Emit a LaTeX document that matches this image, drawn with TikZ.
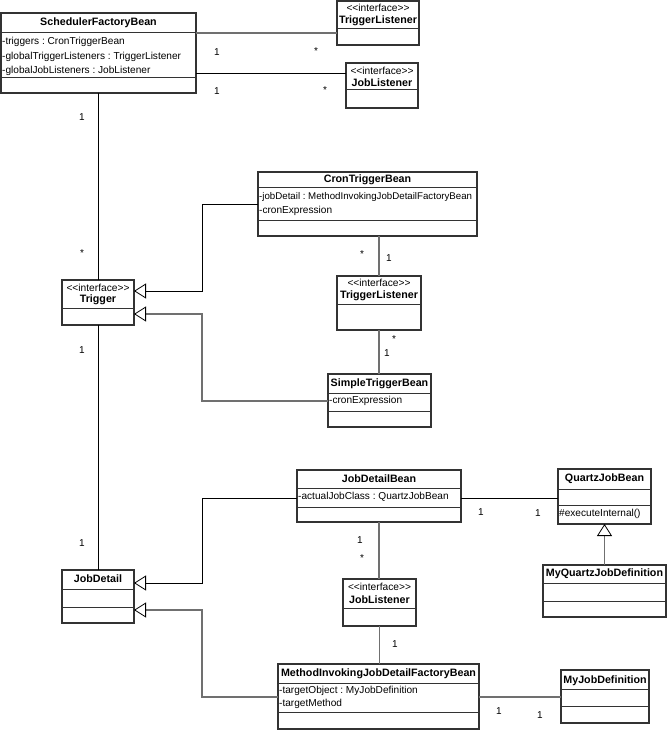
\documentclass[tikz,border=0pt]{standalone}
\usepackage{fontspec}
\setmainfont{Liberation Sans}[Ligatures=TeXOff]
\usetikzlibrary{arrows.meta}
\definecolor{boxc}{HTML}{333333}
\definecolor{grayc}{HTML}{707070}
\frenchspacing
\newcommand\umlbox[6]{%
  \node[classbox, minimum width={(#4-#2)*1pt}, minimum height={(#5-#3)*1pt}] (#1) at ({(#2+#4)/2},{(#3+#5)/2}) {};
  \foreach \s in {#6} \draw[sepline] (#2,\s) -- (#4,\s);
}
\begin{document}
\begin{tikzpicture}[x=1pt,y=-1pt,
  classbox/.style={draw=boxc, line width=1.2pt, inner sep=0pt, outer sep=0pt},
  sepline/.style={draw=boxc, line width=1pt},
  assocb/.style={draw=black, line width=0.8pt},
  assocg/.style={draw=grayc, line width=1.6pt},
  gen/.style={-{Triangle[open, length=12pt, width=15pt, line width=0.8pt, color=black, fill=white]}},
  nm/.style={font=\fontsize{10.7}{12}\selectfont\bfseries, inner sep=0pt},
  stereo/.style={font=\fontsize{10.2}{12}\selectfont, inner sep=0pt},
  attr/.style={font=\fontsize{10.1}{12}\selectfont, inner sep=0pt, anchor=west},
  attrnarrow/.style={attr, font=\fontsize{9.7}{12}\selectfont},
  mult/.style={font=\fontsize{10}{11}\selectfont, inner sep=0pt}]
\useasboundingbox[fill=white] (0,0) rectangle (667,730);

% ---------- boxes ----------
\umlbox{sfb}{1}{13}{196}{93}{33,78}
\umlbox{tla}{337}{1}{419}{45}{29}
\umlbox{jla}{346}{63}{418}{108}{90}
\umlbox{cron}{258}{172}{477}{236}{187,220}
\umlbox{trig}{62}{280}{134}{325}{308}
\umlbox{tlb}{337}{276}{421}{330}{304}
\umlbox{stb}{328}{374}{431}{427}{393,411}
\umlbox{jdb}{297}{470}{461}{522}{488,507}
\umlbox{qjb}{558}{469}{651}{524}{489,505}
\umlbox{mqjd}{543}{565}{666}{617}{583,601}
\umlbox{jlb}{343}{579}{416}{626}{608}
\umlbox{jd}{62}{570}{134}{623}{589,607}
\umlbox{mijd}{278}{664}{479}{729}{683,712}
\umlbox{myjd}{561}{670}{649}{723}{689,706}

% ---------- texts ----------
\node[nm] (sfbN) at (98.5,23) {SchedulerFactoryBean};
\node[attr] (sfbA1) at (2,42) {-triggers : CronTriggerBean};
\node[attr] (sfbA2) at (2,57) {-globalTriggerListeners : TriggerListener};
\node[attr] (sfbA3) at (2,71) {-globalJobListeners : JobListener};

\node[stereo] (tlaS) at (378,7.5) {<<interface>>};
\node[nm] (tlaN) at (378,21) {TriggerListener};

\node[stereo] (jlaS) at (382,70.5) {<<interface>>};
\node[nm] (jlaN) at (382,82.5) {JobListener};

\node[nm] (cronN) at (367.5,180) {CronTriggerBean};
\node[attrnarrow] (cronA1) at (259,197) {-jobDetail : MethodInvokingJobDetailFactoryBean};
\node[attr] (cronA2) at (259,211) {-cronExpression};

\node[stereo] (trigS) at (98,287.5) {<<interface>>};
\node[nm] (trigN) at (98,300) {Trigger};

\node[stereo] (tlbS) at (379,283) {<<interface>>};
\node[nm] (tlbN) at (379,296) {TriggerListener};

\node[nm] (stbN) at (379.5,384) {SimpleTriggerBean};
\node[attr] (stbA1) at (329,401) {-cronExpression};

\node[nm] (jdbN) at (379,479) {JobDetailBean};
\node[attr] (jdbA1) at (298,497) {-actualJobClass : QuartzJobBean};

\node[nm] (qjbN) at (604.5,479) {QuartzJobBean};
\node[attr] (qjbO1) at (559,514) {\#executeInternal()};

\node[nm] (mqjdN) at (604.5,574) {MyQuartzJobDefinition};

\node[stereo] (jlbS) at (379.5,587) {<<interface>>};
\node[nm] (jlbN) at (379.5,600) {JobListener};

\node[nm] (jdN) at (98,579) {JobDetail};

\node[nm] (mijdN) at (378.5,674) {MethodInvokingJobDetailFactoryBean};
\node[attr] (mijdA1) at (279,691) {-targetObject : MyJobDefinition};
\node[attr] (mijdA2) at (279,704) {-targetMethod};

\node[nm] (myjdN) at (605,681) {MyJobDefinition};

% ---------- connector end points ----------
\coordinate (sfbR1) at ([yshift=-20pt]sfb.north east);
\coordinate (sfbR2) at ([yshift=-60pt]sfb.north east);
\coordinate (cronL) at ([yshift=-32pt]cron.north west);
\coordinate (stbL) at ([yshift=-27pt]stb.north west);
\coordinate (trigA) at ([yshift=-11pt]trig.north east);
\coordinate (trigB) at ([yshift=-34pt]trig.north east);
\coordinate (jdbL) at ([yshift=-28pt]jdb.north west);
\coordinate (jdbR) at ([yshift=-28pt]jdb.north east);
\coordinate (mijdL) at ([yshift=-33pt]mijd.north west);
\coordinate (mijdR) at ([yshift=-33pt]mijd.north east);
\coordinate (jdA) at ([yshift=-13pt]jd.north east);
\coordinate (jdB) at ([yshift=-40pt]jd.north east);

% ---------- connectors ----------
\draw[assocg] (sfbR1) -- (sfbR1 -| tla.west);
\draw[assocb] (sfbR2) -- (sfbR2 -| jla.west);
\draw[assocb] (trig.north |- sfb.south) -- (trig.north);

\draw[assocb, gen] (cronL) -- ++(-56,0) |- (trigA);
\draw[assocg, gen] (stbL) -- ++(-126,0) |- (trigB);

\draw[assocg] (tlb.north |- cron.south) -- (tlb.north);
\draw[assocg] (tlb.south) -- (tlb.south |- stb.north);

\draw[assocb] (trig.south) -- (jd.north);
\draw[assocb, gen] (jdbL) -- ++(-95,0) |- (jdA);
\draw[assocg, gen] (mijdL) -- ++(-76,0) |- (jdB);

\draw[assocb] (jdbR) -- (jdbR -| qjb.west);
\draw[assocg, gen] (mqjd.north -| qjb.south) -- (qjb.south);

\draw[assocg] (jdb.south) -- (jdb.south |- jlb.north);
\draw[assocg] (jlb.south) -- (jlb.south |- mijd.north);
\draw[assocg] (mijdR) -- (mijdR -| myjd.west);

% ---------- multiplicities ----------
\node[mult] (m1) at (217,52) {1};
\node[mult] (m2) at (316,51) {*};
\node[mult] (m3) at (217,91) {1};
\node[mult] (m4) at (325,90) {*};
\node[mult] (m5) at (82,117) {1};
\node[mult] (m6) at (82,253) {*};
\node[mult] (m7) at (362,254) {*};
\node[mult] (m8) at (389,258) {1};
\node[mult] (m9) at (394,339) {*};
\node[mult] (m10) at (387,353) {1};
\node[mult] (m11) at (82,350) {1};
\node[mult] (m12) at (82,543) {1};
\node[mult] (m13) at (481,512) {1};
\node[mult] (m14) at (538,513) {1};
\node[mult] (m15) at (360,540) {1};
\node[mult] (m16) at (362,558) {*};
\node[mult] (m17) at (395,644) {1};
\node[mult] (m18) at (499,711) {1};
\node[mult] (m19) at (540,715) {1};
\end{tikzpicture}
\end{document}
